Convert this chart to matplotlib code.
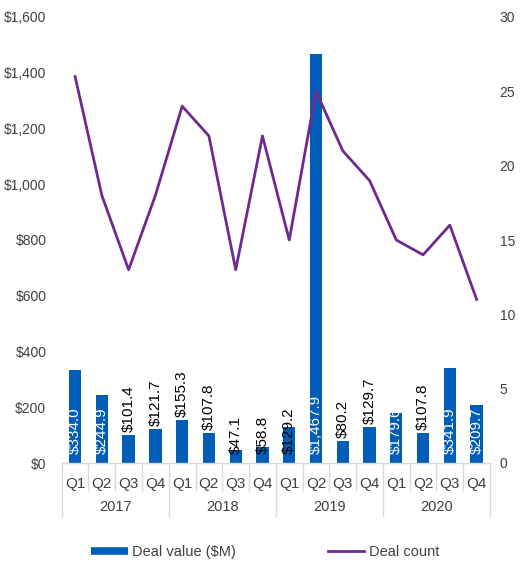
import matplotlib
matplotlib.use("Agg")
import matplotlib.pyplot as plt
import matplotlib.transforms as mtransforms
from matplotlib.lines import Line2D
import numpy as np

plt.rcParams['font.family'] = ['Liberation Sans', 'DejaVu Sans']

years = ["2017", "2018", "2019", "2020"]
quarters = ["Q1", "Q2", "Q3", "Q4"]
deal_value = [334.0, 244.9, 101.4, 121.7, 155.3, 107.8, 47.1, 58.8,
              129.2, 1467.9, 80.2, 129.7, 179.6, 107.8, 341.9, 209.7]
deal_count = [26, 18, 13, 18, 24, 22, 13, 22, 15, 25, 21, 19, 15, 14, 16, 11]
label_mode = ["base", "base", "top", "top", "top", "top", "base", "base",
              "base", "base", "top", "top", "base", "top", "base", "base"]
label_color = ["white", "white", "black", "black", "black", "black", "black", "black",
               "black", "white", "black", "black", "white", "black", "white", "white"]

BAR = "#005EB8"
LINE = "#6E2A8C"
TXT = "#404040"
GRID = "#D9D9D9"

fig = plt.figure(figsize=(5.30, 5.64), dpi=100)
ax = fig.add_axes([61.7 / 530, 1 - 463 / 564, (490 - 61.7) / 530, (463 - 17) / 564])
ax2 = ax.twinx()

n = len(deal_value)
x = np.arange(n)
ax.bar(x, deal_value, width=0.46, color=BAR, zorder=2)
ax.set_xlim(-0.5, n - 0.5)
ax.set_ylim(0, 1600)
ax.set_yticks(np.arange(0, 1601, 200))
ax.set_yticklabels([f"${v:,.0f}" for v in np.arange(0, 1601, 200)])

ax2.plot(x, deal_count, color=LINE, lw=2.0, zorder=3)
ax2.set_ylim(0, 30)
ax2.set_yticks(np.arange(0, 31, 5))

for a in (ax, ax2):
    for s in a.spines.values():
        s.set_visible(False)
    a.tick_params(axis='both', length=0, labelsize=10, labelcolor=TXT)
ax.tick_params(axis='y', pad=11)
ax2.tick_params(axis='y', pad=7)
ax.spines['bottom'].set_visible(True)
ax.spines['bottom'].set_color(GRID)
ax.spines['bottom'].set_linewidth(1.0)

# category labels
ax.set_xticks(x)
ax.set_xticklabels(quarters * len(years))
ax.tick_params(axis='x', pad=10, labelsize=11)
trans = mtransforms.blended_transform_factory(ax.transData, ax.transAxes)
axh = 463 - 17
for b in np.arange(-0.5, n, 1.0):
    is_year = (int(b + 0.5) % 4 == 0)
    depth = 53 if is_year else 27
    ax.plot([b, b], [0, -depth / axh], transform=trans, color=GRID, lw=1.0,
            clip_on=False, zorder=1)
for i, yr in enumerate(years):
    ax.text(i * 4 + 1.5, -44 / axh, yr, transform=trans, ha='center', va='center',
            fontsize=10.5, color=TXT)

# data labels
for xi, v, mode, col in zip(x, deal_value, label_mode, label_color):
    if mode == "base":
        off = mtransforms.offset_copy(ax.transData, fig=fig, x=0, y=9, units='dots')
        ax.text(xi, 0, f"${v:,.1f}", transform=off, rotation=90, ha='center',
                va='bottom', fontsize=11, color=col, zorder=4)
    else:
        off = mtransforms.offset_copy(ax.transData, fig=fig, x=0, y=3, units='dots')
        ax.text(xi, v, f"${v:,.1f}", transform=off, rotation=90, ha='center',
                va='bottom', fontsize=11, color=col, zorder=4)

handles = [Line2D([0], [0], color=BAR, lw=5.5, solid_capstyle='butt'),
           Line2D([0], [0], color=LINE, lw=2.0)]
fig.legend(handles, ["Deal value ($M)", "Deal count"], loc='center',
           bbox_to_anchor=(0.5, 1 - 552 / 564), ncol=2, frameon=False,
           fontsize=10.5, handlelength=2.5, handletextpad=0.3, columnspacing=6.3,
           labelcolor=TXT)

fig.savefig("out.png", dpi=100)
